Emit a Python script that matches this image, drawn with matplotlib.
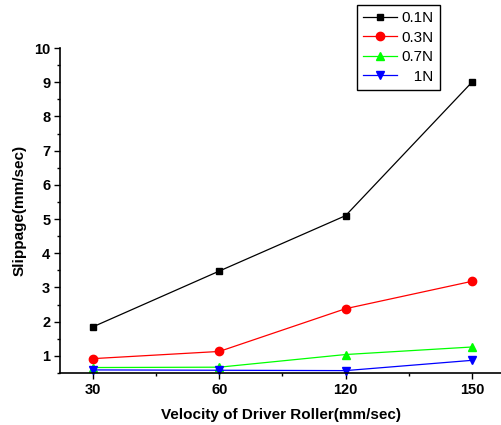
import matplotlib
matplotlib.use("Agg")
import matplotlib.pyplot as plt
import numpy as np
from matplotlib.ticker import MultipleLocator

plt.rcParams.update({"font.family": ["Liberation Sans", "DejaVu Sans"]})

# data
velocity = ["30", "60", "120", "150"]
slip_01N = [1.85, 3.48, 5.10, 9.00]
slip_03N = [0.92, 1.13, 2.38, 3.18]
slip_07N = [0.66, 0.67, 1.04, 1.26]
slip_1N = [0.59, 0.58, 0.57, 0.87]
labels = ["0.1N", "0.3N", "0.7N", "\u2007\u20081N"]

fig = plt.figure(figsize=(5.02, 4.25), dpi=100)
ax = fig.add_axes([60 / 502, 52 / 425, 442 / 502, 325 / 425])

x = np.arange(len(velocity))
series = [
    (slip_01N, "black", "s", 5),
    (slip_03N, "red", "o", 6),
    (slip_07N, "#00ff00", "^", 6),
    (slip_1N, "blue", "v", 6),
]
for (vals, col, mk, ms), lab in zip(series, labels):
    ax.plot(x, vals, color=col, lw=0.9, marker=mk, ms=ms, label=lab,
            clip_on=False)

ax.set_xlim(-0.261, 3.238)
ax.set_ylim(0.5, 10)
ax.set_xticks(x)
ax.set_xticklabels(velocity)
ax.xaxis.set_minor_locator(MultipleLocator(0.5))
ax.yaxis.set_minor_locator(MultipleLocator(0.5))
ax.set_yticks(np.arange(1, 11))

ax.tick_params(which="major", length=4, width=1, labelsize=10.5, pad=3)
ax.tick_params(which="minor", length=2.5, width=1)
for t in ax.get_xticklabels() + ax.get_yticklabels():
    t.set_fontweight("bold")

ax.spines["top"].set_visible(False)
ax.spines["right"].set_visible(False)
ax.spines["left"].set_linewidth(1.2)
ax.spines["bottom"].set_linewidth(1.2)

ax.set_xlabel("Velocity of Driver Roller(mm/sec)", fontsize=11,
              fontweight="bold", labelpad=8)
ax.set_ylabel("Slippage(mm/sec)", fontsize=11, fontweight="bold", labelpad=5)

leg = ax.legend(loc="upper left", bbox_to_anchor=(357 / 502, 1 - 5 / 425),
                bbox_transform=fig.transFigure, fontsize=11, frameon=True,
                fancybox=False, edgecolor="black", framealpha=1,
                numpoints=1,
                handlelength=2.2, handletextpad=0.3, labelspacing=0.36,
                borderpad=0.4, borderaxespad=0)
leg.get_frame().set_linewidth(1.0)

fig.savefig("out.png", dpi=100)
